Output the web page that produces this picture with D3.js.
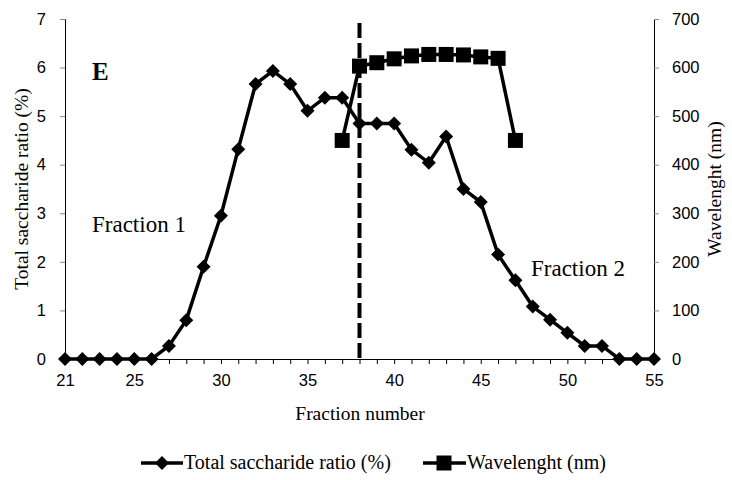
<!DOCTYPE html>
<html>
<head>
<meta charset="utf-8">
<script src="https://cdn.jsdelivr.net/npm/d3@7"></script>
<style>
  html, body { margin: 0; padding: 0; background: #fff; }
  svg { display: block; }
</style>
</head>
<body>
<svg id="chart" width="732" height="480"></svg>
<script>
// Fraction numbers collected from the column
const fractions = d3.range(21, 56);

// Total saccharide ratio (%) per fraction, 21..55
const saccharide = [
  0, 0, 0, 0, 0, 0, 0.27, 0.8, 1.9, 2.95, 4.32,
  5.66, 5.93, 5.66, 5.11, 5.38, 5.38, 4.85, 4.85, 4.85, 4.31,
  4.04, 4.58, 3.5, 3.23, 2.15, 1.62, 1.08, 0.81, 0.54, 0.27,
  0.27, 0, 0, 0
];

// Wavelength (nm) measured for fractions 37..47
const waveFractions = d3.range(37, 48);
const wavelength = [450, 603, 610, 618, 624, 627, 627, 626, 622, 619, 450];

// Axis tick labels
const xTickLabels = [21, 25, 30, 35, 40, 45, 50, 55];
const leftTicks = [0, 1, 2, 3, 4, 5, 6, 7];
const rightTicks = [0, 100, 200, 300, 400, 500, 600, 700];

// Boundary between the two fractions
const splitFraction = 38;

const svg = d3.select("#chart");
const margin = { left: 65, right: 78, top: 19, bottom: 121 };
const W = 732, H = 480;

const x = d3.scaleLinear().domain([21, 55]).range([margin.left, W - margin.right]);
const yL = d3.scaleLinear().domain([0, 7]).range([H - margin.bottom, margin.top]);
const yR = d3.scaleLinear().domain([0, 700]).range([H - margin.bottom, margin.top]);

const tickFont = "'Liberation Sans', Arial, sans-serif";
const serif = "'Liberation Serif', 'Times New Roman', serif";
const tickSize = 16.5;
const titleSize = 19.5;

// x axis: minor tick at every fraction, labels at selected ones
const xAxis = d3.axisBottom(x).tickValues(fractions).tickSize(5).tickPadding(10)
  .tickFormat(d => xTickLabels.includes(d) ? d : "");
const gx = svg.append("g").attr("transform", `translate(0,${yL(0)})`).call(xAxis);
gx.select(".domain").attr("stroke", "#000").attr("stroke-width", 1);
gx.selectAll(".tick line").attr("stroke", "#000");
gx.selectAll(".tick text").attr("font-family", tickFont).attr("font-size", tickSize)
  .attr("fill", "#000");

// left axis
const gl = svg.append("g").attr("transform", `translate(${margin.left},0)`)
  .call(d3.axisLeft(yL).tickValues(leftTicks).tickSize(5).tickPadding(14).tickFormat(d3.format("d")));
gl.select(".domain").attr("stroke", "#000");
gl.selectAll(".tick line").attr("stroke", "#888");
gl.selectAll(".tick text").attr("font-family", tickFont).attr("font-size", tickSize).attr("fill", "#000");

// right axis
const gr = svg.append("g").attr("transform", `translate(${W - margin.right},0)`)
  .call(d3.axisRight(yR).tickValues(rightTicks).tickSize(5).tickPadding(13).tickFormat(d3.format("d")));
gr.select(".domain").attr("stroke", "#000");
gr.selectAll(".tick line").attr("stroke", "#888");
gr.selectAll(".tick text").attr("font-family", tickFont).attr("font-size", tickSize).attr("fill", "#000");

// axis titles
svg.append("text").attr("x", 360).attr("y", 420).attr("text-anchor", "middle")
  .attr("font-family", serif).attr("font-size", titleSize).text("Fraction number");
svg.append("text").attr("transform", `translate(28,${yL(3.5)}) rotate(-90)`)
  .attr("text-anchor", "middle").attr("font-family", serif).attr("font-size", titleSize)
  .text("Total saccharide ratio (%)");
svg.append("text").attr("transform", `translate(721,${yL(3.5)}) rotate(-90)`)
  .attr("text-anchor", "middle").attr("font-family", serif).attr("font-size", titleSize)
  .text("Wavelenght (nm)");

// dashed split line
svg.append("line")
  .attr("x1", x(splitFraction)).attr("x2", x(splitFraction))
  .attr("y1", 23).attr("y2", yL(0))
  .attr("stroke", "#000").attr("stroke-width", 4).attr("stroke-dasharray", "15,5");

// saccharide series
const sacc = fractions.map((f, i) => ({ f, v: saccharide[i] }));
svg.append("path").datum(sacc)
  .attr("fill", "none").attr("stroke", "#000").attr("stroke-width", 3.5)
  .attr("d", d3.line().x(d => x(d.f)).y(d => yL(d.v)));
const diamond = d3.symbol().type(d3.symbolDiamond2).size(125);
svg.append("g").selectAll("path").data(sacc).join("path")
  .attr("transform", d => `translate(${x(d.f)},${yL(d.v)})`)
  .attr("d", diamond).attr("fill", "#000");

// wavelength series
const wave = waveFractions.map((f, i) => ({ f, v: wavelength[i] }));
svg.append("path").datum(wave)
  .attr("fill", "none").attr("stroke", "#000").attr("stroke-width", 3.5)
  .attr("d", d3.line().x(d => x(d.f)).y(d => yR(d.v)));
const sq = 15;
svg.append("g").selectAll("rect").data(wave).join("rect")
  .attr("x", d => x(d.f) - sq / 2).attr("y", d => yR(d.v) - sq / 2)
  .attr("width", sq).attr("height", sq).attr("fill", "#000");

// annotations
svg.append("text").attr("x", 92).attr("y", 80).attr("font-family", serif)
  .attr("font-size", 25).attr("font-weight", "bold").text("E");
svg.append("text").attr("x", 92).attr("y", 232).attr("font-family", serif)
  .attr("font-size", 23).text("Fraction 1");
svg.append("text").attr("x", 531).attr("y", 276).attr("font-family", serif)
  .attr("font-size", 23).text("Fraction 2");

// legend
const legend = svg.append("g").attr("transform", "translate(0,463)");
legend.append("line").attr("x1", 141).attr("x2", 183).attr("stroke", "#000").attr("stroke-width", 3.5);
legend.append("path").attr("d", diamond).attr("transform", "translate(162,0)");
legend.append("text").attr("x", 184).attr("y", 6).attr("font-family", serif)
  .attr("font-size", 20).text("Total saccharide ratio (%)");
legend.append("line").attr("x1", 423).attr("x2", 466).attr("stroke", "#000").attr("stroke-width", 3.5);
legend.append("rect").attr("x", 444 - sq / 2).attr("y", -sq / 2).attr("width", sq).attr("height", sq);
legend.append("text").attr("x", 467).attr("y", 6).attr("font-family", serif)
  .attr("font-size", 20).text("Wavelenght (nm)");
</script>
</body>
</html>
